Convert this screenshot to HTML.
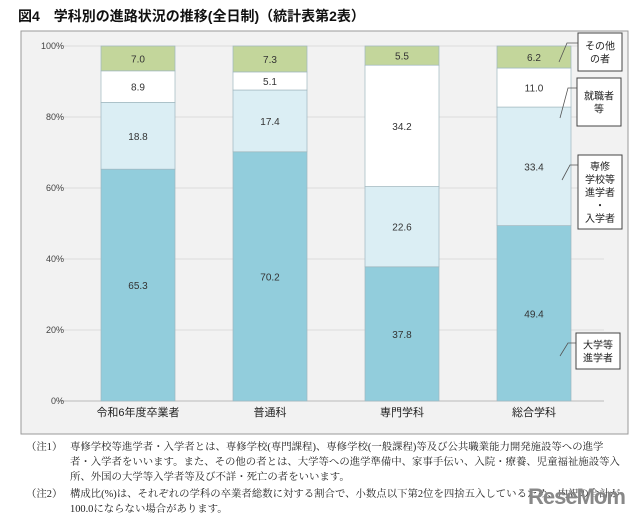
<!DOCTYPE html>
<html><head><meta charset="utf-8">
<style>
body{margin:0;background:#fff;width:640px;height:521px;overflow:hidden;font-family:"Liberation Sans","Noto Sans CJK JP",sans-serif;}
#title{position:absolute;left:18px;top:6px;font-size:14px;font-weight:bold;color:#111;}
#notes{position:absolute;left:26px;top:440px;width:598px;font-size:10.4px;line-height:15px;color:#222;font-family:"Liberation Serif","Noto Serif CJK SC",serif;}
.n{display:flex}.n span:first-child{width:44px;flex:none}
#wm{position:absolute;left:528px;top:484px;font-size:22px;font-weight:bold;color:#888;letter-spacing:-1px;}
</style></head><body>
<div id="title">図4　学科別の進路状況の推移(全日制)（統計表第2表）</div>
<svg id="chart" width="640" height="521" style="position:absolute;left:0;top:0">
<rect x="21" y="31" width="607" height="403" fill="#f2f2f2" stroke="#9a9a9a"/>
<g id="grid"></g><g id="bars"></g><g id="labels"></g><g id="legend"></g>
</svg>
<div id="notes">
<div class="n"><span>（注1）</span><span>専修学校等進学者・入学者とは、専修学校(専門課程)、専修学校(一般課程)等及び公共職業能力開発施設等への進学者・入学者をいいます。また、その他の者とは、大学等への進学準備中、家事手伝い、入院・療養、児童福祉施設等入所、外国の大学等入学者等及び不詳・死亡の者をいいます。</span></div>
<div class="n" style="margin-top:2px"><span>（注2）</span><span>構成比(%)は、それぞれの学科の卒業者総数に対する割合で、小数点以下第2位を四捨五入しているため、内訳の合計が100.0にならない場合があります。</span></div>
</div>
<div id="wm">ReseMom</div>
<script>
const categories=["令和6年度卒業者","普通科","専門学科","総合学科"];
const univ=[65.3,70.2,37.8,49.4];
const senshu=[18.8,17.4,22.6,33.4];
const shushoku=[8.9,5.1,34.2,11.0];
const other=[7.0,7.3,5.5,6.2];
const ticks=[0,20,40,60,80,100];
const NS="http://www.w3.org/2000/svg";
function y(v){return 401-v*3.55;}
function x(i){return 101+i*132;}
const BW=74;
function mk(t,a,p){const e=document.createElementNS(NS,t);for(const k in a)e.setAttribute(k,a[k]);if(p)p.appendChild(e);return e;}
const grid=document.getElementById('grid'),bars=document.getElementById('bars'),labels=document.getElementById('labels'),legend=document.getElementById('legend');
ticks.forEach(t=>{
 const l=mk('line',{x1:58,x2:604,y1:y(t),y2:y(t),stroke:t==0?'#bbb':'#dcdcdc'},grid);
 
 
 const tx=mk('text',{x:64,y:y(t)+3,'text-anchor':'end','font-size':9,fill:'#444'},grid);
 tx.textContent=t+'%';
 
 
});
const series=[[univ,'#92cddc','university'],[senshu,'#dbeef4','vocational'],[shushoku,'#ffffff','employment'],[other,'#c3d69b','other']];
categories.forEach((c,i)=>{
 let base=0;
 series.forEach(([arr,col,nm])=>{
  const v=arr[i];
  const top=(nm==='other')?100:base+v;
  const r=mk('rect',{x:x(i),y:y(top),width:BW,height:y(base)-y(top),fill:col,stroke:'#9fb7bf','stroke-width':0.7},bars);
  
  
  const t=mk('text',{x:x(i)+BW/2,y:(y(base)+y(top))/2+4,'text-anchor':'middle','font-size':10,fill:'#333'},labels);
  t.textContent=v.toFixed(1);
  
  
  base+=v;
 });
 const cl=mk('text',{x:x(i)+BW/2,y:416,'text-anchor':'middle','font-size':11,fill:'#222'},labels);
 cl.textContent=c;
 
 
});
const legs=[["その他","の者"],["就職者","等"],["専修","学校等","進学者","・","入学者"],["大学等","進学者"]];
const boxes=[[578,33,44,38,559,62],[577,78,44,48,560,118],[578,155,44,74,562,180],[576,333,44,36,560,356]];
legs.forEach((lines,k)=>{
 const [bx,by,bw,bh,lx,ly]=boxes[k];
 const g=mk('g',{},legend);
 
 
 mk('polyline',{points:`${lx},${ly} ${lx+8},${by+10} ${bx},${by+10}`,fill:'none',stroke:'#555','stroke-width':0.8},g);
 mk('rect',{x:bx,y:by,width:bw,height:bh,fill:'#fff',stroke:'#444'},g);
 const lh=13;
 const start=by+bh/2-lh*lines.length/2;
 lines.forEach((s,j)=>{const t=mk('text',{x:bx+bw/2,y:start+lh*j+lh/2+4,'text-anchor':'middle','font-size':10,fill:'#222'},g);t.textContent=s;});
});
</script>
</body></html>
